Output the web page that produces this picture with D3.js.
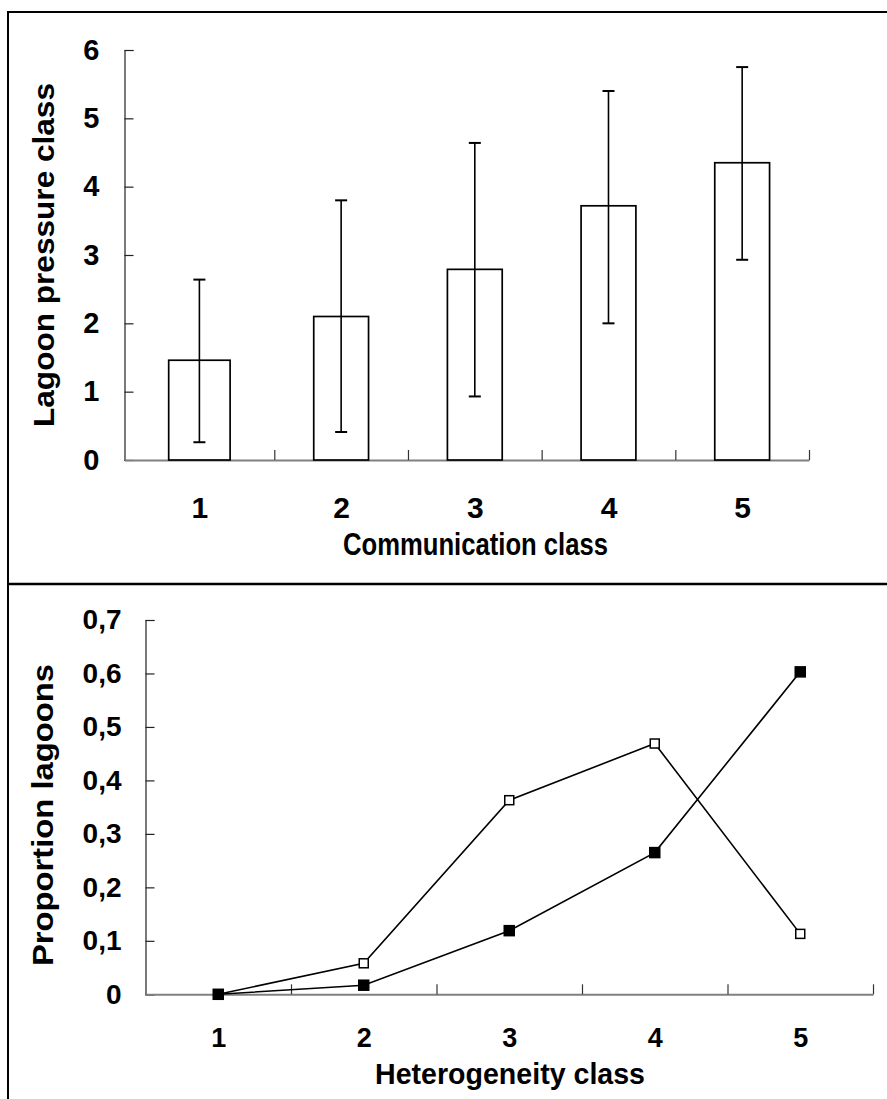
<html>
<head>
<meta charset="utf-8">
<script src="https://d3js.org/d3.v7.min.js"></script>
<style>
body { margin: 0; background: #fff; }
svg { display: block; font-family: "Liberation Sans", Arial, sans-serif; font-weight: bold; }
.axis text { font-family: "Liberation Sans", Arial, sans-serif; font-weight: bold; fill: #000; }
</style>
</head>
<body>
<svg width="887" height="1099"></svg>

<script>
// top panel: lagoon pressure by communication class (mean + error bars)
var commClasses = [1, 2, 3, 4, 5];
var pressureMean = [1.46, 2.10, 2.79, 3.72, 4.35];
var pressureHigh = [2.64, 3.80, 4.64, 5.40, 5.75];
var pressureLow = [0.26, 0.41, 0.93, 2.00, 2.93];
var pressureTicks = [0, 1, 2, 3, 4, 5, 6];

// bottom panel: proportion of lagoons by heterogeneity class
var hetClasses = [1, 2, 3, 4, 5];
var propOpen = [0, 0.058, 0.363, 0.469, 0.113];
var propFilled = [0, 0.017, 0.119, 0.265, 0.603];
var propTicks = [0, 0.1, 0.2, 0.3, 0.4, 0.5, 0.6, 0.7];

var svg = d3.select("svg");
svg.append("rect").attr("width", 887).attr("height", 1099).attr("fill", "#fff");

// frame lines (the panels run off the right and bottom edge)
svg.append("line").attr("x1", 8).attr("x2", 887).attr("y1", 12).attr("y2", 12)
  .attr("stroke", "#000").attr("stroke-width", 2);
svg.append("line").attr("x1", 8).attr("x2", 8).attr("y1", 11).attr("y2", 1099)
  .attr("stroke", "#000").attr("stroke-width", 2);
svg.append("line").attr("x1", 7).attr("x2", 887).attr("y1", 584).attr("y2", 584)
  .attr("stroke", "#000").attr("stroke-width", 2.6);

// ---------- top chart ----------
// first category is a bit wider in the original, so piecewise domain
var xTop = d3.scaleLinear().domain([0.5, 1.5, 5.5]).range([124.5, 274.3, 809]);
var yTop = d3.scaleLinear().domain([0, 6]).range([460, 50]);

var yAxisTop = d3.axisLeft(yTop).tickValues(pressureTicks).tickSize(-9).tickPadding(25)
  .tickFormat(d3.format("d"));
var gy = svg.append("g").attr("class", "axis").attr("transform", "translate(124.5,0)").call(yAxisTop);
gy.selectAll("text").style("font-size", "29px");
gy.selectAll("line, path").attr("stroke", "#222").attr("stroke-width", 1.2);

var gx = svg.append("g").attr("transform", "translate(0,460)")
  .call(d3.axisBottom(xTop).tickValues([1.5, 2.5, 3.5, 4.5, 5.5]).tickSize(-10).tickSizeOuter(0).tickFormat(""));
gx.select("path").attr("stroke", "#808080").attr("stroke-width", 2);
gx.selectAll("line").attr("stroke", "#333").attr("stroke-width", 1.2);

var gxl = svg.append("g").attr("class", "axis").attr("transform", "translate(0,460)")
  .call(d3.axisBottom(xTop).tickValues(commClasses).tickSize(0).tickPadding(37)
    .tickFormat(d3.format("d")));
gxl.select("path").remove();
gxl.selectAll("text").style("font-size", "30px");

function halfBar(c) { return 0.205 * (xTop(c + 0.5) - xTop(c - 0.5)); }

svg.selectAll("rect.bar").data(commClasses).enter().append("rect")
  .attr("class", "bar")
  .attr("x", function (c) { return xTop(c) - halfBar(c); })
  .attr("width", function (c) { return 2 * halfBar(c); })
  .attr("y", function (c, i) { return yTop(pressureMean[i]); })
  .attr("height", function (c, i) { return yTop(0) - yTop(pressureMean[i]); })
  .attr("fill", "#fff").attr("stroke", "#000").attr("stroke-width", 1.7);

var err = svg.append("g").attr("stroke", "#000").attr("stroke-width", 1.6);
commClasses.forEach(function (c, i) {
  err.append("line").attr("x1", xTop(c)).attr("x2", xTop(c))
    .attr("y1", yTop(pressureHigh[i])).attr("y2", yTop(pressureLow[i]));
  [pressureHigh[i], pressureLow[i]].forEach(function (v) {
    err.append("line").attr("x1", xTop(c) - 6).attr("x2", xTop(c) + 6)
      .attr("y1", yTop(v)).attr("y2", yTop(v)).attr("stroke-width", 2);
  });
});

svg.append("text").attr("x", 475.5).attr("y", 555).attr("text-anchor", "middle")
  .attr("textLength", 265).attr("lengthAdjust", "spacingAndGlyphs")
  .style("font-size", "31px").text("Communication class");
svg.append("text").attr("transform", "translate(54,255) rotate(-90)").attr("text-anchor", "middle")
  .attr("textLength", 344).attr("lengthAdjust", "spacingAndGlyphs")
  .style("font-size", "30px").text("Lagoon pressure class");

// ---------- bottom chart ----------
var xBot = d3.scaleLinear().domain([0.5, 5.5]).range([145.5, 873]);
var yBot = d3.scaleLinear().domain([0, 0.7]).range([994.3, 620]);

var gy2 = svg.append("g").attr("class", "axis").attr("transform", "translate(145.5,0)")
  .call(d3.axisLeft(yBot).tickValues(propTicks).tickSize(-9).tickPadding(24)
    .tickFormat(function (d) { return d === 0 ? "0" : d3.format(".1f")(d).replace(".", ","); }));
gy2.selectAll("text").style("font-size", "28px");
gy2.selectAll("line, path").attr("stroke", "#222").attr("stroke-width", 1.2);

var gx2 = svg.append("g").attr("transform", "translate(0,994.3)")
  .call(d3.axisBottom(xBot).tickValues([1.5, 2.5, 3.5, 4.5, 5.5]).tickSize(-10).tickSizeOuter(0).tickFormat(""));
gx2.select("path").attr("stroke", "#808080").attr("stroke-width", 2);
gx2.selectAll("line").attr("stroke", "#333").attr("stroke-width", 1.2);

var gxl2 = svg.append("g").attr("class", "axis").attr("transform", "translate(0,994.3)")
  .call(d3.axisBottom(xBot).tickValues(hetClasses).tickSize(0).tickPadding(34)
    .tickFormat(d3.format("d")));
gxl2.select("path").remove();
gxl2.selectAll("text").style("font-size", "27px");

var line = d3.line()
  .x(function (d, i) { return xBot(hetClasses[i]); })
  .y(function (d) { return yBot(d); });

// open squares first, filled drawn on top
[[propOpen, "#fff", 9], [propFilled, "#000", 10]].forEach(function (s) {
  svg.append("path").attr("d", line(s[0])).attr("fill", "none")
    .attr("stroke", "#000").attr("stroke-width", 1.6);
  svg.append("g").selectAll("rect").data(s[0]).enter().append("rect")
    .attr("x", function (d, i) { return xBot(hetClasses[i]) - s[2] / 2; })
    .attr("y", function (d) { return yBot(d) - s[2] / 2; })
    .attr("width", s[2]).attr("height", s[2])
    .attr("fill", s[1]).attr("stroke", "#000").attr("stroke-width", 1.5);
});

svg.append("text").attr("x", 510).attr("y", 1084).attr("text-anchor", "middle")
  .attr("textLength", 270).attr("lengthAdjust", "spacingAndGlyphs")
  .style("font-size", "30px").text("Heterogeneity class");
svg.append("text").attr("transform", "translate(53,815) rotate(-90)").attr("text-anchor", "middle")
  .attr("textLength", 302).attr("lengthAdjust", "spacingAndGlyphs")
  .style("font-size", "29px").text("Proportion lagoons");
</script>
</body>
</html>
